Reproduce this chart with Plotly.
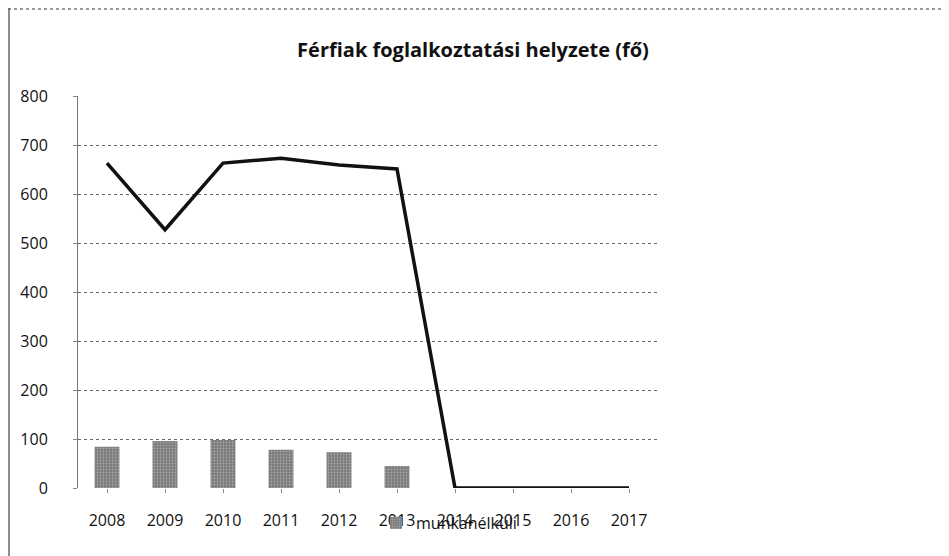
import plotly.graph_objects as go

years = ["2008", "2009", "2010", "2011", "2012", "2013", "2014", "2015", "2016", "2017"]
foglalkoztatott = [663, 527, 663, 673, 659, 651, 0, 0, 0, 0]
munkanelkuli = [84, 96, 98, 78, 73, 45, 0, 0, 0, 0]

# page body adds an 8px offset; figure sized to compensate
W, H = 941, 548
L, R, T, B = 70, 291, 88, 68
PW, PH = W - L - R, H - T - B

fig = go.Figure()
fig.add_trace(go.Bar(
    x=years, y=munkanelkuli, name="munkanélküli",
    marker=dict(color="#7a7a7a", line=dict(width=0),
                pattern=dict(shape=".", fgcolor="#d0d0d0", size=3, solidity=0.3)),
    width=0.43,
))
fig.add_trace(go.Scatter(
    x=years, y=foglalkoztatott, name="foglalkoztatott", mode="lines",
    line=dict(color="#111111", width=3.5), showlegend=False,
))

fig.update_layout(
    width=W, height=H,
    margin=dict(l=L, r=R, t=T, b=B, autoexpand=False),
    paper_bgcolor="white", plot_bgcolor="white",
    font=dict(family="Open Sans, DejaVu Sans, sans-serif", size=16, color="#111111"),
    title=dict(text="<b>Férfiak foglalkoztatási helyzete (fő)</b>",
               x=465 / W, xanchor="center", y=1 - 42 / H, yanchor="middle",
               font=dict(size=20, family="Open Sans, DejaVu Sans, sans-serif")),
    showlegend=True,
    legend=dict(orientation="h", x=(368 - L) / PW, xanchor="left", y=-35 / PH, yanchor="middle",
                bgcolor="rgba(0,0,0,0)", font=dict(size=16)),
)
fig.update_xaxes(type="category", showgrid=False, showline=False, ticks="outside",
                 ticklen=4, tickcolor="#888888", tickfont=dict(size=16),
                 ticklabelstandoff=14)
fig.update_yaxes(range=[0, 800], dtick=100, showgrid=True, gridcolor="#666666",
                 griddash="dot", gridwidth=1, showline=True, linecolor="#777777",
                 ticks="outside", ticklen=4, tickcolor="#888888",
                 zeroline=False, tickfont=dict(size=16), ticklabelstandoff=22)

fig.add_shape(type="line", xref="paper", yref="paper", x0=-L / PW, x1=(W - L) / PW,
              y0=(PH + T - 1) / PH, y1=(PH + T - 1) / PH,
              line=dict(color="#999999", width=2, dash="dot"))
fig.add_shape(type="line", xref="paper", yref="paper", x0=(1 - L) / PW, x1=(1 - L) / PW,
              y0=-B / PH, y1=(PH + T) / PH,
              line=dict(color="#666666", width=1.5))

fig.write_html("out.html")
